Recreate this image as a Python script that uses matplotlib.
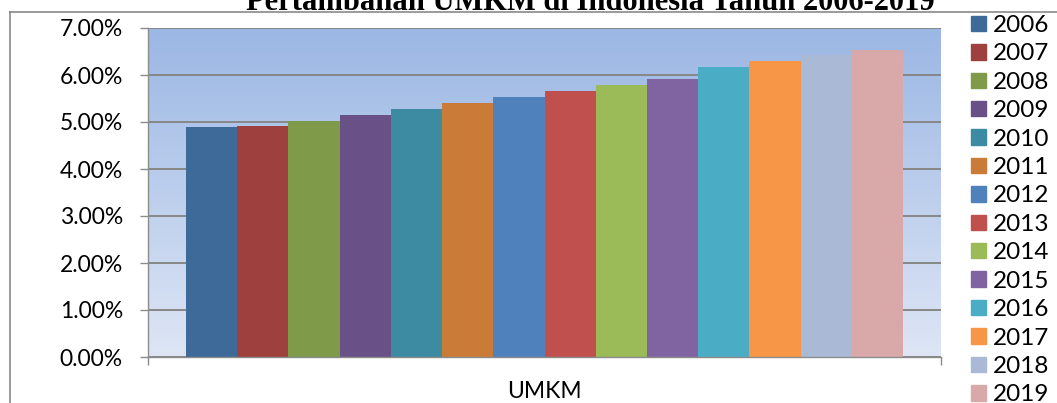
import numpy as np
import matplotlib
matplotlib.use("Agg")
import matplotlib.pyplot as plt
from matplotlib.patches import Patch
from matplotlib.lines import Line2D
from matplotlib.ticker import PercentFormatter, FixedLocator

# data: growth of UMKM per year (percent)
tahun = ["2006", "2007", "2008", "2009", "2010", "2011", "2012",
         "2013", "2014", "2015", "2016", "2017", "2018", "2019"]
nilai = [4.89, 4.91, 5.02, 5.15, 5.28, 5.40, 5.53,
         5.66, 5.79, 5.91, 6.17, 6.30, 6.43, 6.53]
kategori = ["UMKM"]
warna = ["#3e6a9a", "#9e403d", "#7f9a48", "#695086", "#3c8ba2", "#cb7b38",
         "#4f81bd", "#c0504d", "#9bbb59", "#8064a2", "#4bacc6", "#f79646",
         "#aab9d6", "#d9a9a9"]

W, H = 1057, 403
fig = plt.figure(figsize=(W / 100, H / 100), dpi=100)
ax = fig.add_axes([148 / W, 1 - 357 / H, (941 - 148) / W, (357 - 28) / H])

font = "Lato"
fs = 16.5

# gradient plot background
grad = np.linspace(0, 1, 256).reshape(-1, 1)
top = np.array([155, 183, 228]) / 255
bot = np.array([222, 230, 245]) / 255
img = top + (bot - top) * grad
ax.imshow(img.reshape(256, 1, 3), extent=(-0.5, 0.5, 0, 7), aspect="auto",
          zorder=0, origin="upper")

n = len(nilai)
lebar_grup = 717 / 793
lebar = lebar_grup / n
xs = -lebar_grup / 2 + lebar * (np.arange(n) + 0.5)
for x, v, c, t in zip(xs, nilai, warna, tahun):
    ax.bar(x, v, width=lebar, color=c, label=t, zorder=3, linewidth=0)

ax.set_xlim(-0.5, 0.5)
ax.set_ylim(0, 7)
ax.yaxis.set_major_locator(FixedLocator(np.arange(0, 8)))
ax.yaxis.set_major_formatter(PercentFormatter(decimals=2))
ax.grid(axis="y", color="#878787", linewidth=1.4, zorder=1)
ax.set_axisbelow(True)

ax.set_xticks([-0.5, 0.5])
ax.set_xticklabels(["", ""])
ax.set_xticks([0], minor=True)
ax.set_xticklabels(kategori, minor=True, fontsize=fs, family=font)
ax.tick_params(axis="x", which="minor", length=0, pad=17)
ax.tick_params(axis="x", which="major", length=6, width=1, color="#8c8c8c",
               direction="out")
ax.tick_params(axis="y", length=6, width=1, color="#8c8c8c", direction="out",
               labelsize=fs, pad=12)
for lbl in ax.get_yticklabels():
    lbl.set_family(font)

for s in ["top", "right"]:
    ax.spines[s].set_visible(False)
for s in ["left", "bottom"]:
    ax.spines[s].set_color("#8c8c8c")
    ax.spines[s].set_linewidth(1)
    ax.spines[s].set_zorder(4)

# chart frame
ytop = 1 - 12 / H
xl = 10 / W
fig.add_artist(Line2D([xl, 1], [ytop, ytop], color="#8a8a8a", lw=1.2,
                      transform=fig.transFigure))
fig.add_artist(Line2D([xl, xl], [0, ytop], color="#8a8a8a", lw=1.2,
                      transform=fig.transFigure))

fig.text(590 / W, 1 - 10 / H, "Pertambahan UMKM di Indonesia Tahun 2006-2019",
         ha="center", va="baseline", fontsize=22, fontweight="bold",
         family="Liberation Serif")

handles = [Patch(color=c, label=t) for c, t in zip(warna, tahun)]
fig.legend(handles=handles, loc="upper left",
           bbox_to_anchor=(971 / W, 1 - 15 / H), frameon=False,
           prop={"family": font, "size": 17.5}, handlelength=0.6,
           handleheight=0.6, handletextpad=0.3, labelspacing=0.305,
           borderpad=0, borderaxespad=0)

fig.savefig("out.png", dpi=100)
